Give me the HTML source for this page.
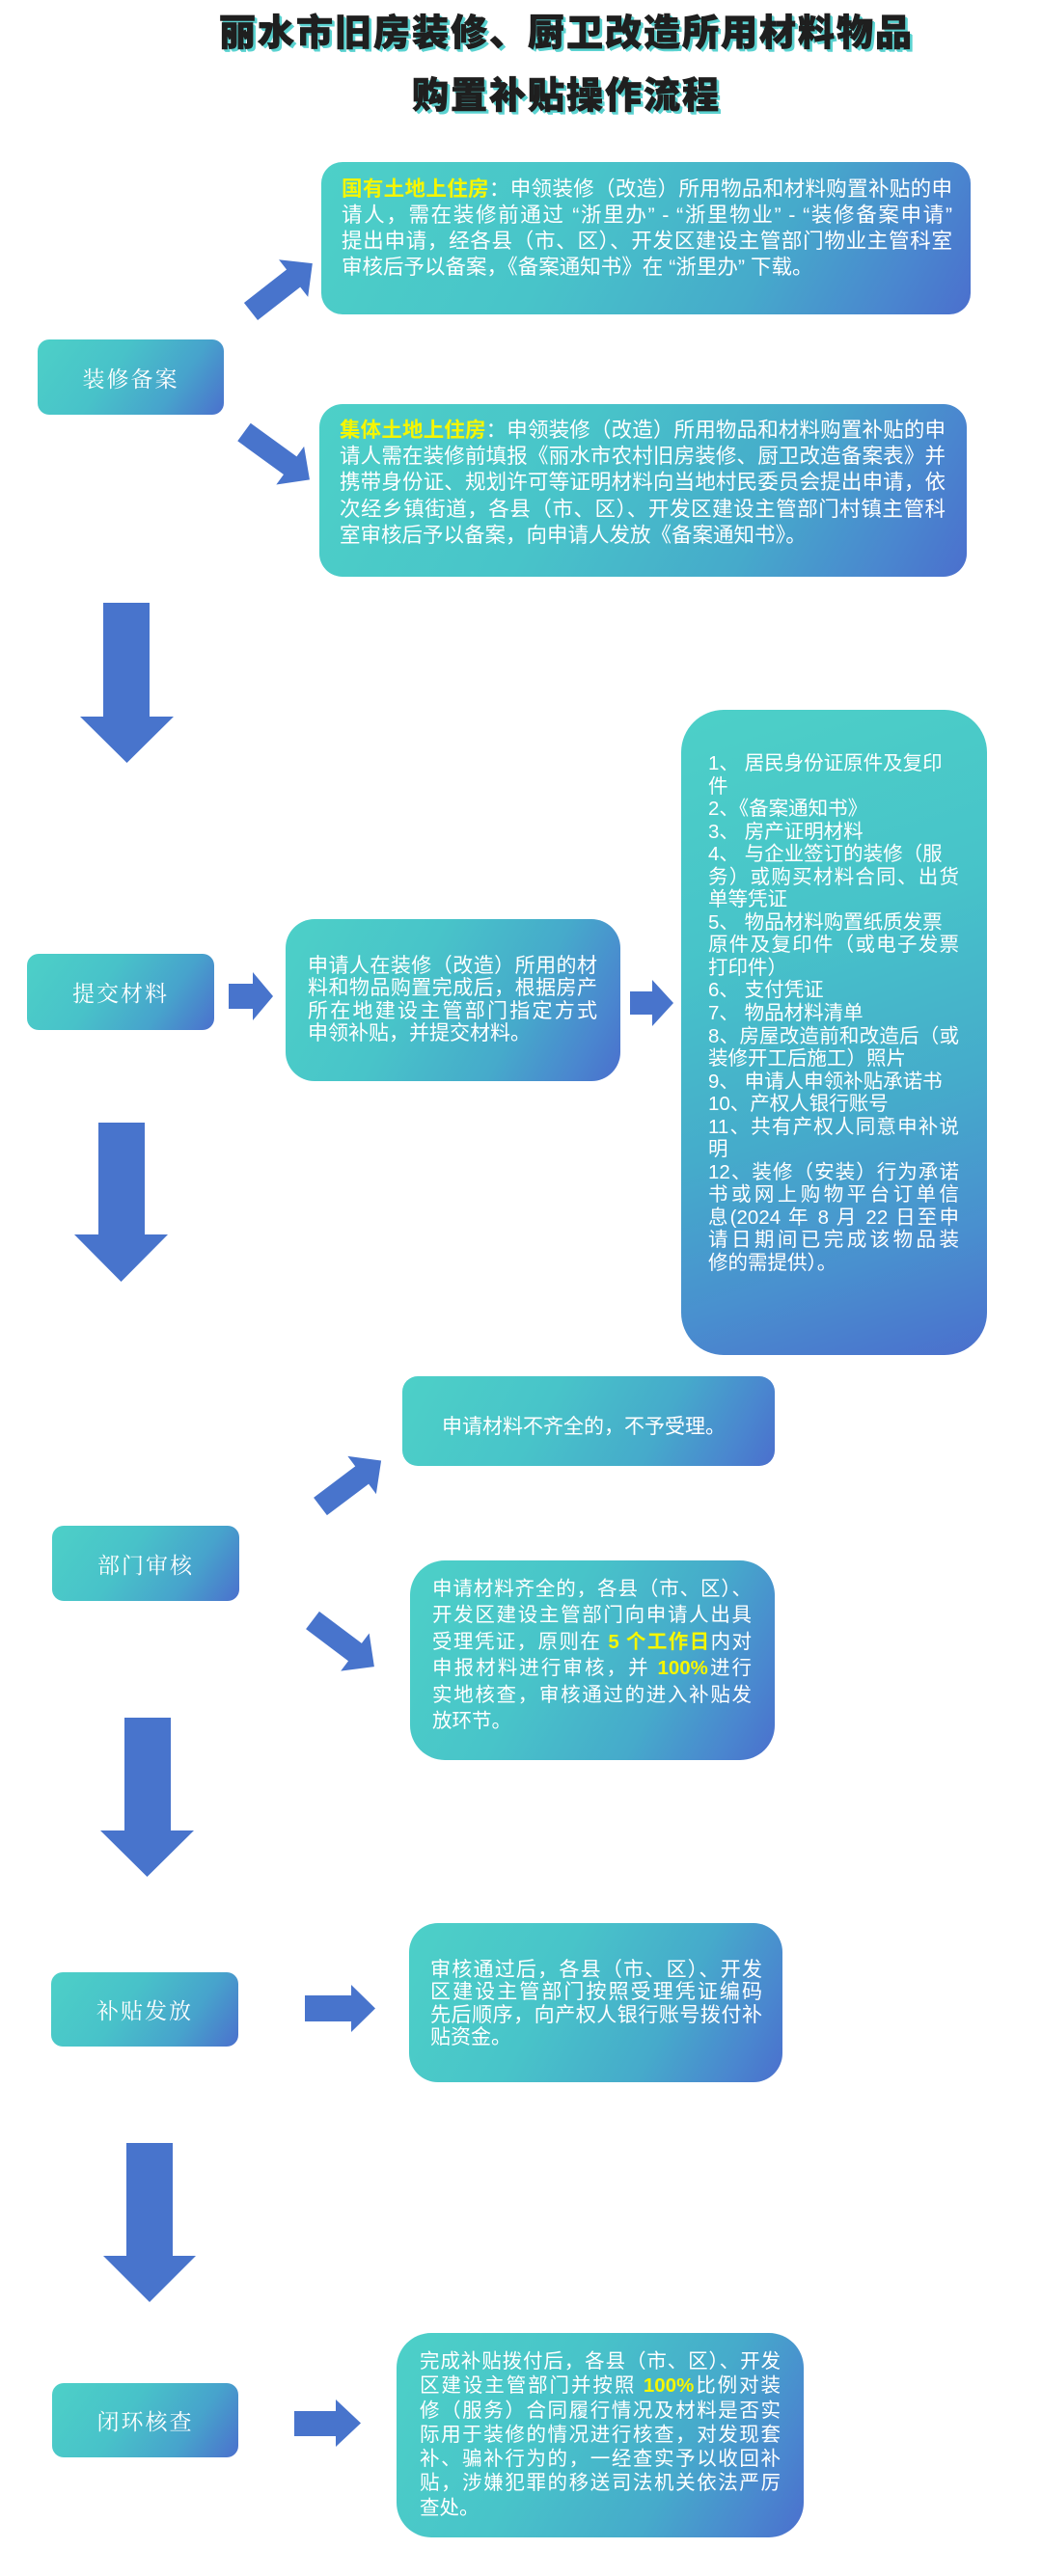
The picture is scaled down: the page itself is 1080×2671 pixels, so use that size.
<!DOCTYPE html>
<html lang="zh-CN">
<head>
<meta charset="utf-8">
<style>
  html, body { margin:0; padding:0; }
  body { width:1080px; height:2671px; background:#ffffff; position:relative; overflow:hidden;
         font-family:"Liberation Sans","Noto Sans CJK SC",sans-serif; }
  .title { position:absolute; font-family:"Liberation Sans","Noto Sans CJK SC",sans-serif;
           font-weight:900; font-size:38px; line-height:38px; letter-spacing:2px; color:#1f1f1f;
           white-space:nowrap; -webkit-text-stroke:0.8px #1f1f1f;
           text-shadow: 2px 2px 0 #5ad2d0, 3px 3px 0 #5ad2d0; }
  .box { position:absolute; border-radius:20px;
         background: linear-gradient(118deg, #4dd0c8 0%, #48c4c9 38%, #46aacb 68%, #4a86cf 88%, #4b6fcd 100%); }
  .lbl { position:absolute; border-radius:12px; display:flex; align-items:center; justify-content:center;
         background: linear-gradient(125deg, #4dd0c8 0%, #48c2c9 40%, #47a3cc 72%, #4b70cd 100%);
         color:#fff; font-family:"Liberation Serif","Noto Serif CJK SC",serif; font-size:23px; letter-spacing:2px; }
  .tb { position:absolute; color:#fff; font-family:"Liberation Sans","Noto Sans CJK SC",sans-serif; }
  .tb div { text-align:left; }
  .tb div.j { text-align:justify; text-align-last:justify; }
  .y { color:#f6f600; font-weight:bold; }
  svg { position:absolute; left:0; top:0; }
</style>
</head>
<body>

<div class="title" style="left:227px; top:16px;">丽水市旧房装修、厨卫改造所用材料物品</div>
<div class="title" style="left:427px; top:81px;">购置补贴操作流程</div>

<svg width="1080" height="2671" viewBox="0 0 1080 2671">
  <g fill="#4874cc">
    <!-- diagonal arrows section 1 -->
    <polygon transform="translate(260,323) rotate(-38)" points="0,-11.5 56,-11.5 56,-24.5 81,0 56,24.5 56,11.5 0,11.5"/>
    <polygon transform="translate(253,448) rotate(36)" points="0,-11.5 59,-11.5 59,-24.5 84,0 59,24.5 59,11.5 0,11.5"/>
    <!-- diagonal arrows section 3 -->
    <polygon transform="translate(332,1562) rotate(-37)" points="0,-11.5 54,-11.5 54,-24.5 79,0 54,24.5 54,11.5 0,11.5"/>
    <polygon transform="translate(324,1680) rotate(37)" points="0,-11.5 55,-11.5 55,-24.5 80,0 55,24.5 55,11.5 0,11.5"/>
    <!-- down arrows -->
    <polygon points="107,625 155,625 155,743 180,743 131.5,791 83,743 107,743"/>
    <polygon points="102,1164 150,1164 150,1280 174,1280 125.5,1329 77,1280 102,1280"/>
    <polygon points="129,1781 177,1781 177,1898 201,1898 152.5,1946 104,1898 129,1898"/>
    <polygon points="131,2222 179,2222 179,2339 203,2339 155,2387 107,2339 131,2339"/>
    <!-- right arrows -->
    <polygon points="237,1020 262,1020 262,1008 283,1033 262,1058 262,1046 237,1046"/>
    <polygon points="653,1028 676,1028 676,1016 698,1040 676,1064 676,1052 653,1052"/>
    <polygon points="316,2069 364,2069 364,2058 389,2082.5 364,2107 364,2096 316,2096"/>
    <polygon points="305,2500 348,2500 348,2488 374,2512.5 348,2537 348,2526 305,2526"/>
  </g>
</svg>

<!-- Section 1 -->
<div class="lbl" style="left:39px; top:352px; width:193px; height:78px;">装修备案</div>

<div class="box" style="left:333px; top:168px; width:673px; height:158px; border-radius:22px;"></div>
<div class="tb" style="left:354px; top:182.5px; width:633px; font-size:21.5px; line-height:27px;">
  <div class="j"><span class="y">国有土地上住房</span>：申领装修（改造）所用物品和材料购置补贴的申</div>
  <div class="j">请人，需在装修前通过 “浙里办” - “浙里物业” - “装修备案申请”</div>
  <div class="j">提出申请，经各县（市、区）、开发区建设主管部门物业主管科室</div>
  <div>审核后予以备案，《备案通知书》在 “浙里办” 下载。</div>
</div>

<div class="box" style="left:331px; top:419px; width:671px; height:179px; border-radius:24px;"></div>
<div class="tb" style="left:352px; top:433px; width:628px; font-size:21.5px; line-height:27.2px;">
  <div class="j"><span class="y">集体土地上住房</span>：申领装修（改造）所用物品和材料购置补贴的申</div>
  <div class="j">请人需在装修前填报《丽水市农村旧房装修、厨卫改造备案表》并</div>
  <div class="j">携带身份证、规划许可等证明材料向当地村民委员会提出申请，依</div>
  <div class="j">次经乡镇街道，各县（市、区）、开发区建设主管部门村镇主管科</div>
  <div>室审核后予以备案，向申请人发放《备案通知书》。</div>
</div>

<!-- Section 2 -->
<div class="lbl" style="left:28px; top:989px; width:194px; height:79px;">提交材料</div>

<div class="box" style="left:296px; top:953px; width:347px; height:168px; border-radius:30px;"></div>
<div class="tb" style="left:319px; top:990px; width:300px; font-size:21px; line-height:23.4px;">
  <div class="j">申请人在装修（改造）所用的材</div>
  <div class="j">料和物品购置完成后，根据房产</div>
  <div class="j">所在地建设主管部门指定方式</div>
  <div>申领补贴，并提交材料。</div>
</div>

<div class="box" style="left:706px; top:736px; width:317px; height:669px; border-radius:44px;
     background: linear-gradient(162deg, #4dd0c8 0%, #47c3c9 35%, #45abcb 62%, #4990cf 82%, #4b6fcd 100%);"></div>
<div class="tb" style="left:734px; top:780px; width:260px; font-size:20.5px; line-height:23.55px;">
  <div>1、 居民身份证原件及复印</div>
  <div>件</div>
  <div>2、《备案通知书》</div>
  <div>3、 房产证明材料</div>
  <div>4、 与企业签订的装修（服</div>
  <div class="j">务）或购买材料合同、出货</div>
  <div>单等凭证</div>
  <div>5、 物品材料购置纸质发票</div>
  <div class="j">原件及复印件（或电子发票</div>
  <div>打印件）</div>
  <div>6、 支付凭证</div>
  <div>7、 物品材料清单</div>
  <div class="j">8、房屋改造前和改造后（或</div>
  <div>装修开工后施工）照片</div>
  <div>9、 申请人申领补贴承诺书</div>
  <div>10、产权人银行账号</div>
  <div class="j">11、共有产权人同意申补说</div>
  <div>明</div>
  <div class="j">12、装修（安装）行为承诺</div>
  <div class="j">书或网上购物平台订单信</div>
  <div class="j">息(2024 年 8 月 22 日至申</div>
  <div class="j">请日期间已完成该物品装</div>
  <div>修的需提供）。</div>
</div>

<!-- Section 3 -->
<div class="lbl" style="left:54px; top:1582px; width:194px; height:78px;">部门审核</div>

<div class="box" style="left:417px; top:1427px; width:386px; height:93px; border-radius:16px;"></div>
<div class="tb" style="left:458px; top:1465px; width:330px; font-size:21px; line-height:30px;">
  <div>申请材料不齐全的，不予受理。</div>
</div>

<div class="box" style="left:425px; top:1618px; width:378px; height:207px; border-radius:36px;"></div>
<div class="tb" style="left:448px; top:1634px; width:331px; font-size:20.5px; line-height:27.4px;">
  <div class="j">申请材料齐全的，各县（市、区）、</div>
  <div class="j">开发区建设主管部门向申请人出具</div>
  <div class="j">受理凭证，原则在 <span class="y">5 个工作日</span>内对</div>
  <div class="j">申报材料进行审核，并 <span class="y">100%</span>进行</div>
  <div class="j">实地核查，审核通过的进入补贴发</div>
  <div>放环节。</div>
</div>

<!-- Section 4 -->
<div class="lbl" style="left:53px; top:2045px; width:194px; height:77px;">补贴发放</div>

<div class="box" style="left:424px; top:1994px; width:387px; height:165px; border-radius:30px;"></div>
<div class="tb" style="left:446px; top:2031px; width:344px; font-size:21px; line-height:23.3px;">
  <div class="j">审核通过后，各县（市、区）、开发</div>
  <div class="j">区建设主管部门按照受理凭证编码</div>
  <div class="j">先后顺序，向产权人银行账号拨付补</div>
  <div>贴资金。</div>
</div>

<!-- Section 5 -->
<div class="lbl" style="left:54px; top:2471px; width:193px; height:77px;">闭环核查</div>

<div class="box" style="left:411px; top:2419px; width:422px; height:212px; border-radius:36px;"></div>
<div class="tb" style="left:435px; top:2436px; width:374px; font-size:20.5px; line-height:25.3px;">
  <div class="j">完成补贴拨付后，各县（市、区）、开发</div>
  <div class="j">区建设主管部门并按照 <span class="y">100%</span>比例对装</div>
  <div class="j">修（服务）合同履行情况及材料是否实</div>
  <div class="j">际用于装修的情况进行核查，对发现套</div>
  <div class="j">补、骗补行为的，一经查实予以收回补</div>
  <div class="j">贴，涉嫌犯罪的移送司法机关依法严厉</div>
  <div>查处。</div>
</div>

</body>
</html>
